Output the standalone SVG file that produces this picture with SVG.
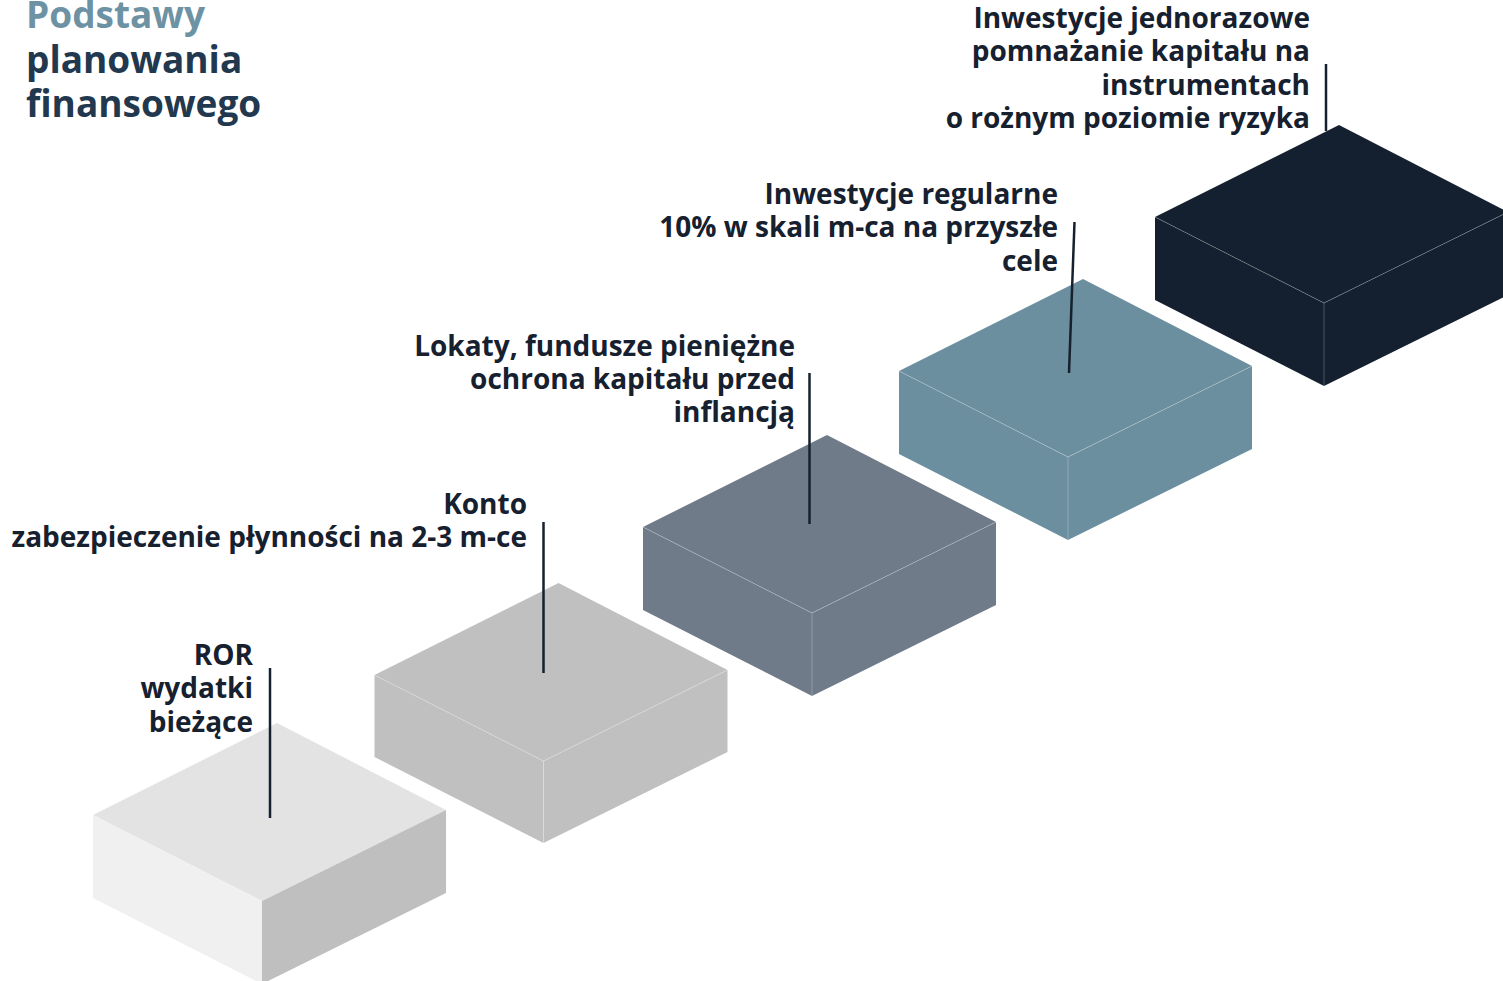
<svg xmlns="http://www.w3.org/2000/svg" width="1503" height="981" viewBox="0 0 1503 981">
<style>
  .lbl { font-family: "Open Sans", "Noto Sans", "Liberation Sans", sans-serif; font-weight: 700; font-size: 28px; fill: #16202e; text-anchor: end; }
  .title { font-family: "Open Sans", "Noto Sans", "Liberation Sans", sans-serif; font-weight: 700; font-size: 37px; }
  .edge { fill: none; stroke: #ffffff; stroke-opacity: 0.3; stroke-width: 0.8; }
  .conn { stroke: #16202e; stroke-width: 2.5; fill: none; }
</style>
<rect width="1503" height="981" fill="#ffffff"/>
<g id="title">
  <text class="title" x="26" y="28" fill="#6d92a3">Podstawy</text>
  <text class="title" x="26" y="73" fill="#22384f">planowania</text>
  <text class="title" x="26" y="117" fill="#22384f">finansowego</text>
</g>
<g id="box1">
  <polygon points="277,723 446,810 262,901 93,815" fill="#e3e3e3"/>
  <polygon points="93,815 262,901 262,984 93,898" fill="#f0f0f0"/>
  <polygon points="262,901 446,810 446,893 262,984" fill="#bfbfbf"/>
</g>
<g id="box2">
  <polygon points="558.5,583 727.5,670 543.5,761 374.5,675" fill="#c0c0c0"/>
  <polygon points="374.5,675 543.5,761 543.5,843 374.5,757" fill="#c0c0c0"/>
  <polygon points="543.5,761 727.5,670 727.5,752 543.5,843" fill="#c0c0c0"/>
  <polyline class="edge" points="374.5,675 543.5,761 727.5,670"/>
  <line class="edge" x1="543.5" y1="761" x2="543.5" y2="843"/>
</g>
<g id="box3">
  <polygon points="827,435 996,522 812,613 643,527" fill="#6f7b88"/>
  <polygon points="643,527 812,613 812,696 643,610" fill="#6f7b88"/>
  <polygon points="812,613 996,522 996,605 812,696" fill="#6f7b88"/>
  <polyline class="edge" points="643,527 812,613 996,522"/>
  <line class="edge" x1="812" y1="613" x2="812" y2="696"/>
</g>
<g id="box4">
  <polygon points="1083,279 1252,366 1068,457 899,371" fill="#6b8f9f"/>
  <polygon points="899,371 1068,457 1068,540 899,454" fill="#6b8f9f"/>
  <polygon points="1068,457 1252,366 1252,449 1068,540" fill="#6b8f9f"/>
  <polyline class="edge" points="899,371 1068,457 1252,366"/>
  <line class="edge" x1="1068" y1="457" x2="1068" y2="540"/>
</g>
<g id="box5">
  <polygon points="1339,125 1508,212 1324,303 1155,217" fill="#14202f"/>
  <polygon points="1155,217 1324,303 1324,386 1155,300" fill="#14202f"/>
  <polygon points="1324,303 1508,212 1508,295 1324,386" fill="#14202f"/>
  <polyline class="edge" points="1155,217 1324,303 1508,212"/>
  <line class="edge" x1="1324" y1="303" x2="1324" y2="386"/>
</g>
<g id="connectors">
  <line class="conn" x1="270" y1="668" x2="270" y2="818"/>
  <line class="conn" x1="543.5" y1="522" x2="543.5" y2="673"/>
  <line class="conn" x1="809.5" y1="373" x2="809.5" y2="524"/>
  <line class="conn" x1="1074.5" y1="222" x2="1069" y2="373"/>
  <line class="conn" x1="1326" y1="64" x2="1326" y2="131"/>
</g>
<g id="label1">
  <text class="lbl" x="253" y="665">ROR</text>
  <text class="lbl" x="253" y="698">wydatki</text>
  <text class="lbl" x="253" y="732">bieżące</text>
</g>
<g id="label2">
  <text class="lbl" x="527" y="514">Konto</text>
  <text class="lbl" x="527" y="547">zabezpieczenie płynności na 2-3 m-ce</text>
</g>
<g id="label3">
  <text class="lbl" x="795" y="356">Lokaty, fundusze pieniężne</text>
  <text class="lbl" x="795" y="389">ochrona kapitału przed</text>
  <text class="lbl" x="795" y="422">inflancją</text>
</g>
<g id="label4">
  <text class="lbl" x="1058" y="204">Inwestycje regularne</text>
  <text class="lbl" x="1058" y="237">10% w skali m-ca na przyszłe</text>
  <text class="lbl" x="1058" y="271">cele</text>
</g>
<g id="label5">
  <text class="lbl" x="1310" y="28">Inwestycje jednorazowe</text>
  <text class="lbl" x="1310" y="61">pomnażanie kapitału na</text>
  <text class="lbl" x="1310" y="95">instrumentach</text>
  <text class="lbl" x="1310" y="128">o rożnym poziomie ryzyka</text>
</g>
</svg>
